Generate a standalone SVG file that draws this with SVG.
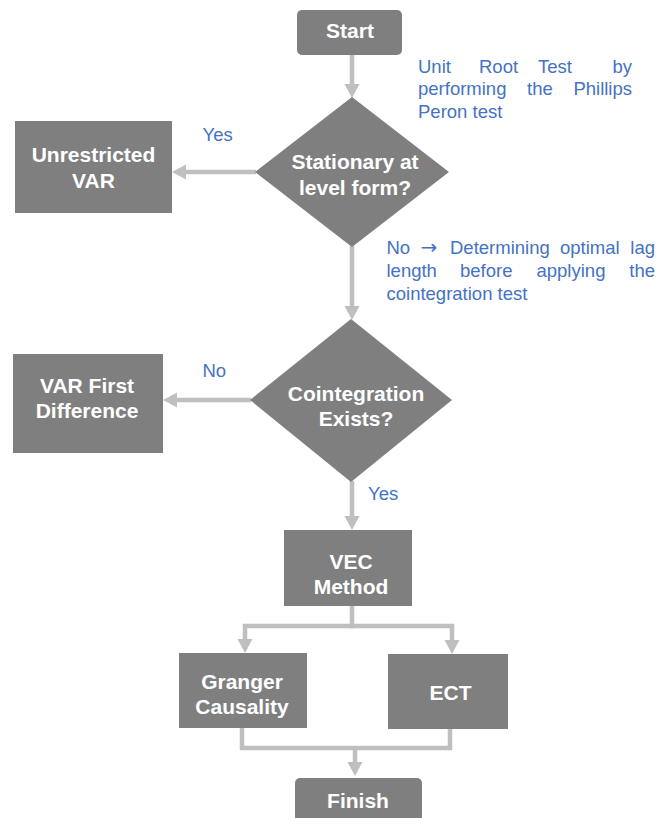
<svg xmlns="http://www.w3.org/2000/svg" width="663" height="818" viewBox="0 0 663 818">
<defs>
<style>
.box{fill:#7F7F7F}
.nt{font-family:"Liberation Sans",Arial,sans-serif;font-weight:bold;font-size:21px;fill:#FFFFFF;text-anchor:middle}
.lbl{font-family:"Liberation Sans",Arial,sans-serif;font-size:18.5px;fill:#4472C4}
.arr{font-family:"DejaVu Sans",sans-serif;font-size:20px}
.c{fill:none;stroke:#BFBFBF;stroke-width:4.5}
</style>
<marker id="ah" markerUnits="userSpaceOnUse" viewBox="0 -8 15 16" refX="0" refY="0" markerWidth="15" markerHeight="16" orient="auto" overflow="visible">
<path d="M0,-7.5 L14,0 L0,7.5 z" fill="#BFBFBF"/>
</marker>
</defs>
<rect width="663" height="818" fill="#FFFFFF"/>

<g id="connectors">
<path class="c" d="M352,55 V84" marker-end="url(#ah)"/>
<path class="c" d="M256,172 H186" marker-end="url(#ah)"/>
<path class="c" d="M352,246 V306" marker-end="url(#ah)"/>
<path class="c" d="M251,400 H177" marker-end="url(#ah)"/>
<path class="c" d="M352,481 V516" marker-end="url(#ah)"/>
<path class="c" d="M352,606 V626 H245 V639" marker-end="url(#ah)"/>
<path class="c" d="M350,626 H452 V640" marker-end="url(#ah)"/>
<path class="c" d="M242,728 V748 H450 V729"/>
<path class="c" d="M355,748 V762" marker-end="url(#ah)"/>
</g>

<g id="start">
<rect class="box" x="297" y="10" width="105" height="45" rx="5"/>
<text class="nt" x="350" y="38">Start</text>
</g>

<g id="stationary">
<polygon class="box" points="352,97 449,172 352,247 255,172"/>
<text class="nt" x="355" y="169">Stationary at</text>
<text class="nt" x="355" y="194.5">level form?</text>
</g>

<g id="unrestricted">
<rect class="box" x="15" y="121" width="157" height="92"/>
<text class="nt" x="93.5" y="161.5">Unrestricted</text>
<text class="nt" x="93.5" y="187.5">VAR</text>
</g>

<g id="cointegration">
<polygon class="box" points="351,319 452,400 351,482 250,400"/>
<text class="nt" x="356" y="400.5">Cointegration</text>
<text class="nt" x="356" y="426">Exists?</text>
</g>

<g id="varfirst">
<rect class="box" x="13" y="354" width="150" height="99"/>
<text class="nt" x="87" y="392.5">VAR First</text>
<text class="nt" x="87" y="418">Difference</text>
</g>

<g id="vec">
<rect class="box" x="284" y="530" width="128" height="76"/>
<text class="nt" x="351" y="568.5">VEC</text>
<text class="nt" x="351" y="594">Method</text>
</g>

<g id="granger">
<rect class="box" x="179" y="653" width="128" height="75"/>
<text class="nt" x="242" y="688.5">Granger</text>
<text class="nt" x="242" y="714">Causality</text>
</g>

<g id="ect">
<rect class="box" x="388" y="654" width="120" height="75"/>
<text class="nt" x="450.5" y="700">ECT</text>
</g>

<g id="finish">
<rect class="box" x="295" y="778" width="127" height="50" rx="5"/>
<text class="nt" x="358" y="808">Finish</text>
</g>

<g id="labels">
<text class="lbl" x="202.5" y="140.5">Yes</text>
<text class="lbl" x="202.5" y="377">No</text>
<text class="lbl" x="368" y="500">Yes</text>
<text class="lbl" y="72.5"><tspan x="418">Unit</tspan><tspan x="479">Root</tspan><tspan x="538">Test</tspan><tspan x="632" text-anchor="end">by</tspan></text>
<text class="lbl" y="95"><tspan x="418">performing</tspan><tspan x="527">the</tspan><tspan x="632" text-anchor="end">Phillips</tspan></text>
<text class="lbl" x="418" y="117.5">Peron test</text>
<text class="lbl" y="254"><tspan x="386.5">No</tspan><tspan class="arr" x="420.5">→</tspan><tspan x="450">Determining</tspan><tspan x="560">optimal</tspan><tspan x="655" text-anchor="end">lag</tspan></text>
<text class="lbl" y="277"><tspan x="386.5">length</tspan><tspan x="460">before</tspan><tspan x="536.5">applying</tspan><tspan x="655" text-anchor="end">the</tspan></text>
<text class="lbl" x="386.5" y="299.5">cointegration test</text>
</g>
</svg>
